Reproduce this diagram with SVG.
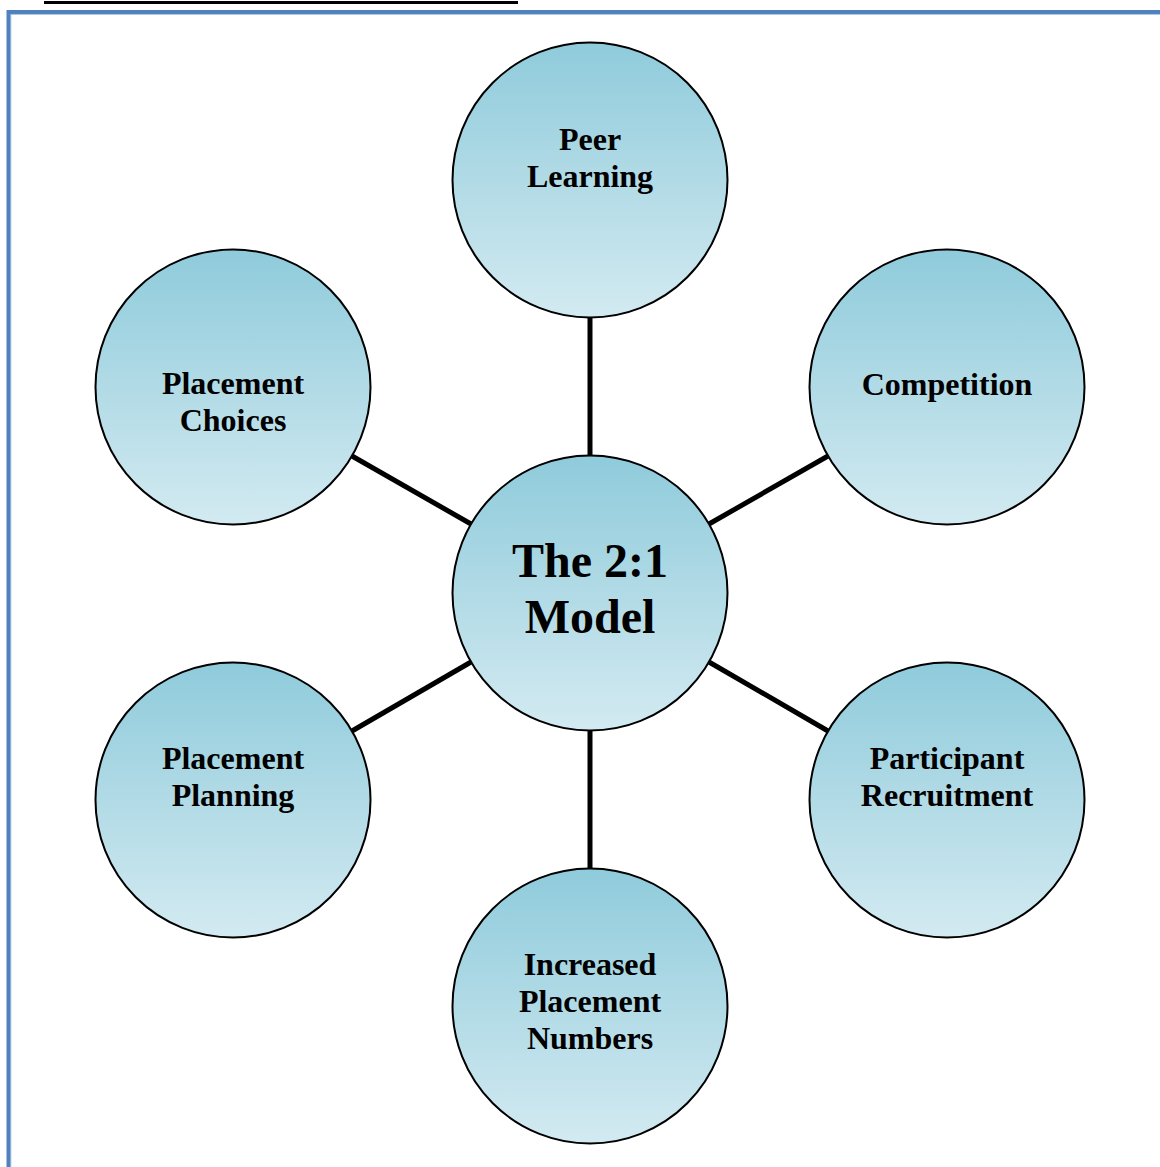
<svg xmlns="http://www.w3.org/2000/svg" width="1160" height="1167" viewBox="0 0 1160 1167">
  <defs>
    <linearGradient id="bubbleFill" x1="0" y1="0" x2="0" y2="1">
      <stop offset="0" stop-color="#8fcbdb"/>
      <stop offset="1" stop-color="#d3eaf1"/>
    </linearGradient>
    <style>
      .bubble { fill: url(#bubbleFill); stroke: #000; stroke-width: 2; }
      .label { font-family: "Liberation Serif", "Times New Roman", serif; font-weight: bold; font-size: 32px; text-anchor: middle; fill: #000; }
      .hub { font-size: 48px; }
      .spoke { stroke: #000; stroke-width: 5; fill: none; }
    </style>
  </defs>

  <rect width="1160" height="1167" fill="#fff"/>

  <!-- heading rule and page frame -->
  <rect x="44" y="1" width="474" height="3" fill="#000"/>
  <path d="M8.5 1167 V12 H1160" fill="none" stroke="#4f81bd" stroke-width="4"/>
  <path d="M10.8 1167 V14.3 H1160" fill="none" stroke="#7ea3d3" stroke-width="0.8"/>

  <!-- spokes between the hub and the outer bubbles -->
  <g id="connectors">
    <line class="spoke" x1="590" y1="318" x2="590" y2="456"/>
    <line class="spoke" x1="590" y1="730" x2="590" y2="869"/>
    <line class="spoke" x1="352" y1="456" x2="471" y2="524"/>
    <line class="spoke" x1="828" y1="456" x2="709" y2="524"/>
    <line class="spoke" x1="352" y1="731" x2="471" y2="662"/>
    <line class="spoke" x1="828" y1="731" x2="709" y2="662"/>
  </g>

  <g id="hub">
    <circle class="bubble" cx="590" cy="593" r="137.5"/>
    <text class="label hub" x="590" y="577">The 2:1</text>
    <text class="label hub" x="590" y="633">Model</text>
  </g>

  <g id="peer-learning">
    <circle class="bubble" cx="590" cy="180" r="137.5"/>
    <text class="label" x="590" y="150">Peer</text>
    <text class="label" x="590" y="187">Learning</text>
  </g>

  <g id="competition">
    <circle class="bubble" cx="947" cy="387" r="137.5"/>
    <text class="label" x="947" y="395">Competition</text>
  </g>

  <g id="participant-recruitment">
    <circle class="bubble" cx="947" cy="800" r="137.5"/>
    <text class="label" x="947" y="769">Participant</text>
    <text class="label" x="947" y="806">Recruitment</text>
  </g>

  <g id="increased-placement-numbers">
    <circle class="bubble" cx="590" cy="1006" r="137.5"/>
    <text class="label" x="590" y="975">Increased</text>
    <text class="label" x="590" y="1012">Placement</text>
    <text class="label" x="590" y="1049">Numbers</text>
  </g>

  <g id="placement-planning">
    <circle class="bubble" cx="233" cy="800" r="137.5"/>
    <text class="label" x="233" y="769">Placement</text>
    <text class="label" x="233" y="806">Planning</text>
  </g>

  <g id="placement-choices">
    <circle class="bubble" cx="233" cy="387" r="137.5"/>
    <text class="label" x="233" y="394">Placement</text>
    <text class="label" x="233" y="431">Choices</text>
  </g>
</svg>
